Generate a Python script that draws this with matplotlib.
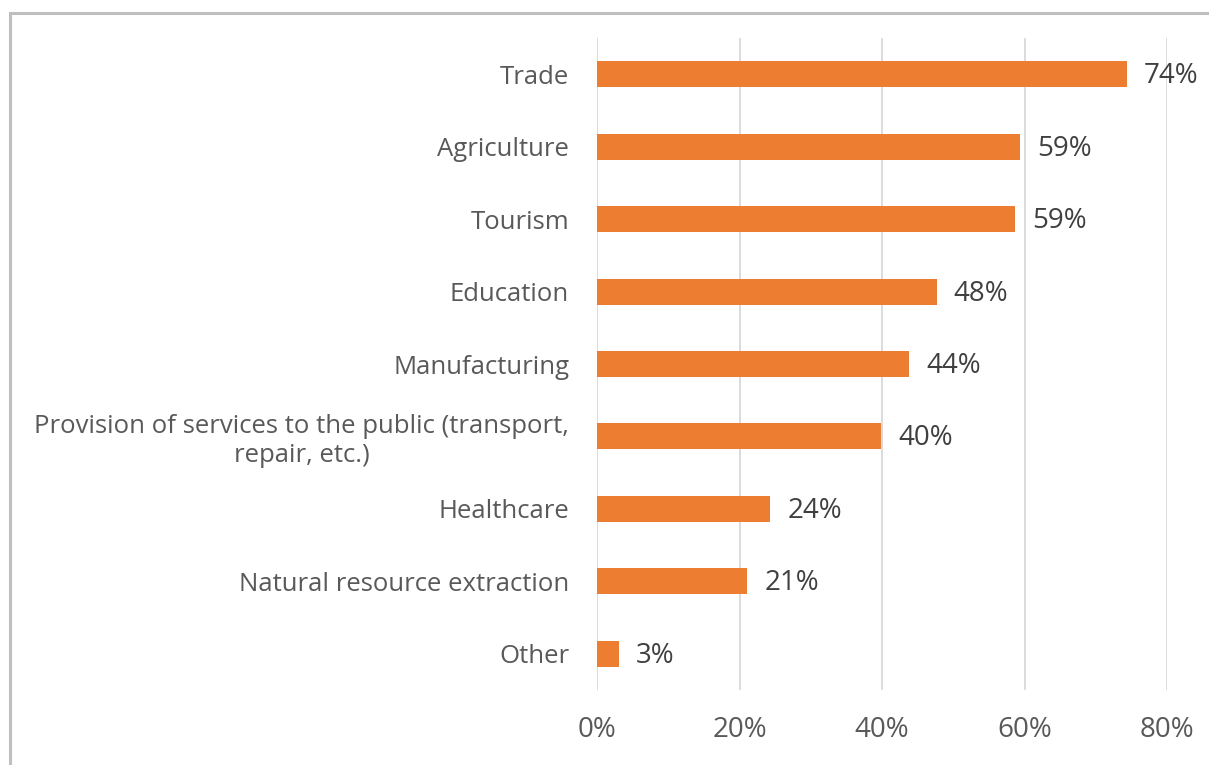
import matplotlib.pyplot as plt
from matplotlib.patches import Rectangle

sectors = ['Trade', 'Agriculture', 'Tourism', 'Education', 'Manufacturing',
           'Provision of services to the public (transport,\nrepair, etc.)',
           'Healthcare', 'Natural resource extraction', 'Other']
shares = [74.4, 59.4, 58.7, 47.7, 43.8, 39.9, 24.3, 21.1, 3.1]
labels = ['74%', '59%', '59%', '48%', '44%', '40%', '24%', '21%', '3%']
xticks = [0, 20, 40, 60, 80]
xtick_labels = ['0%', '20%', '40%', '60%', '80%']

plt.rcParams['font.family'] = ['Open Sans', 'DejaVu Sans']

fig = plt.figure(figsize=(12.09, 7.65), dpi=100)
ax = fig.add_axes([597 / 1209, 1 - 690 / 765, 570 / 1209, 652 / 765])

y = list(range(len(sectors)))
ax.barh(y, shares, height=0.36, color='#ED7D31', zorder=3)

for yi, v, lab in zip(y, shares, labels):
    ax.annotate(lab, (v, yi), xytext=(17, -2), textcoords='offset pixels',
                ha='left', va='center', fontsize=20, color='#404040')

ax.set_xlim(0, 80)
ax.set_ylim(len(sectors) - 0.5, -0.5)
ax.set_xticks(xticks)
ax.set_xticklabels(xtick_labels, fontsize=20, color='#595959')
ax.set_yticks(y)
ax.set_yticklabels(sectors, fontsize=18.5, color='#595959', ha='right',
                   multialignment='center')
ax.tick_params(axis='both', length=0)
ax.tick_params(axis='y', pad=20)
ax.tick_params(axis='x', pad=19)
ax.grid(axis='x', color='#D9D9D9', linewidth=1.3, zorder=0)
for s in ax.spines.values():
    s.set_visible(False)

# chart frame, cut off on the right and bottom
fig.patches.append(Rectangle((10 / 1209, -0.05), 1.2, 1 - 13 / 765 + 0.05,
                             transform=fig.transFigure, fill=False,
                             edgecolor='#BFBFBF', linewidth=2.2))

fig.savefig('out.png', dpi=100)
